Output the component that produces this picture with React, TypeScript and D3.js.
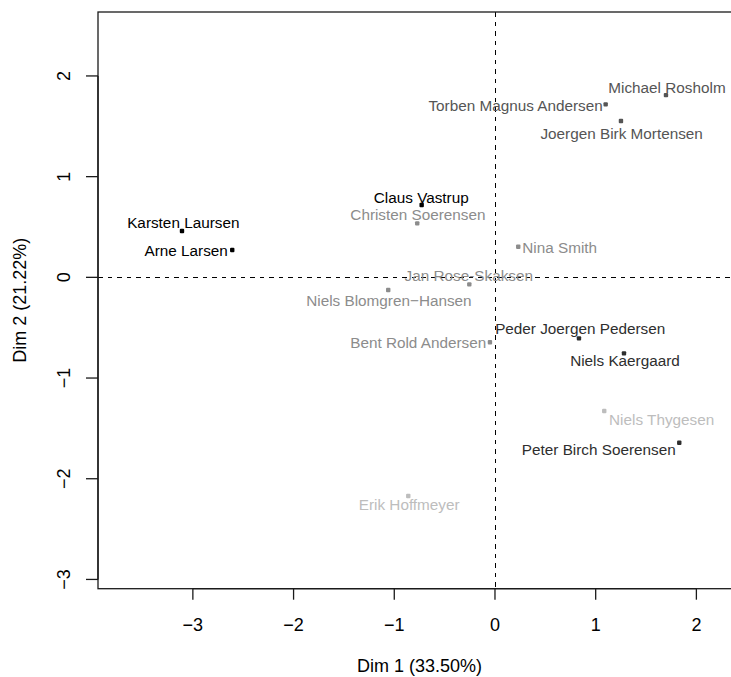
import React from "react";
import * as d3 from "d3";

const names = [
  "Karsten Laursen", "Arne Larsen", "Claus Vastrup", "Christen Soerensen",
  "Jan Rose-Skaksen", "Niels Blomgren\u2212Hansen", "Michael Rosholm",
  "Torben Magnus Andersen", "Joergen Birk Mortensen", "Nina Smith",
  "Bent Rold Andersen", "Peder Joergen Pedersen", "Niels Kaergaard",
  "Niels Thygesen", "Peter Birch Soerensen", "Erik Hoffmeyer",
];
const dim1 = [-3.108, -2.609, -0.728, -0.772, -0.255, -1.06, 1.698, 1.099, 1.251, 0.231, -0.05, 0.834, 1.281, 1.085, 1.83, -0.861];
const dim2 = [0.46, 0.271, 0.718, 0.536, -0.07, -0.126, 1.81, 1.718, 1.552, 0.304, -0.645, -0.606, -0.755, -1.328, -1.643, -2.172];
// label anchor (centre) positions, in data units, as placed by the label layout
const labX = [-3.095, -3.066, -0.732, -0.765, -0.26, -1.053, 1.708, 0.205, 1.258, 0.643, -0.762, 0.846, 1.291, 1.655, 1.031, -0.852];
const labY = [0.544, 0.268, 0.797, 0.622, 0.023, -0.23, 1.89, 1.711, 1.433, 0.301, -0.647, -0.51, -0.826, -1.412, -1.71, -2.256];
const shade = ["#000000", "#000000", "#000000", "#8c8c8c", "#8c8c8c", "#8c8c8c", "#555555", "#555555", "#555555", "#8c8c8c", "#8c8c8c", "#2e2e2e", "#2e2e2e", "#bdbdbd", "#2e2e2e", "#bdbdbd"];

const xTicks = [-3, -2, -1, 0, 1, 2];
const yTicks = [-3, -2, -1, 0, 1, 2];
const xTitle = "Dim 1 (33.50%)";
const yTitle = "Dim 2 (21.22%)";

const W = 731, H = 677;
const L = 98, R = 741, T = 12, B = 588.7;
const FONT = "'Liberation Sans', Arial, Helvetica, sans-serif";
const FS = 15.3;
const AFS = 18;

const fmt = (t: number) => (t < 0 ? "\u2212" + Math.abs(t) : String(t));

export default function App() {
  const x = d3.scaleLinear().domain([-3.942, 2.443]).range([L, R]);
  const y = d3.scaleLinear().domain([-3.092, 2.635]).range([B, T]);
  const capOff = FS * 0.36;
  const axisCol = "#1a1a1a";
  return (
    <svg width={W} height={H} style={{ position: "absolute", left: 0, top: 0, background: "#fff" }} fontFamily={FONT} fontSize={FS}>
      <rect x={0} y={0} width={W} height={H} fill="#fff" />
      <defs>
        <clipPath id="plotclip"><rect x={L} y={T} width={R - L} height={B - T} /></clipPath>
      </defs>
      {/* reference lines */}
      <g clipPath="url(#plotclip)" stroke="#000" strokeWidth={1.1} strokeDasharray="4.5,5" shapeRendering="crispEdges">
        <line x1={L} x2={R} y1={Math.round(y(0)) + 0.5} y2={Math.round(y(0)) + 0.5} />
        <line x1={Math.round(x(0)) + 0.5} x2={Math.round(x(0)) + 0.5} y1={T} y2={B} />
      </g>
      {/* box */}
      <rect x={L} y={T} width={R - L} height={B - T} fill="none" stroke={axisCol} strokeWidth={1.3} />
      {/* x axis */}
      <g fontSize={AFS}>
        <line x1={x(xTicks[0])} x2={x(xTicks[xTicks.length - 1])} y1={B} y2={B} stroke={axisCol} strokeWidth={1.3} />
        {xTicks.map((t) => (
          <g key={"xt" + t}>
            <line x1={x(t)} x2={x(t)} y1={B} y2={B + 11} stroke={axisCol} strokeWidth={1.3} />
            <text x={x(t)} y={630.5} textAnchor="middle" fill="#000">{fmt(t)}</text>
          </g>
        ))}
      </g>
      {/* y axis */}
      <g fontSize={AFS}>
        <line x1={L} x2={L} y1={y(yTicks[0])} y2={y(yTicks[yTicks.length - 1])} stroke={axisCol} strokeWidth={1.3} />
        {yTicks.map((t) => (
          <g key={"yt" + t}>
            <line x1={L - 12} x2={L} y1={y(t)} y2={y(t)} stroke={axisCol} strokeWidth={1.3} />
            <text transform={`translate(${69.5},${y(t)}) rotate(-90)`} textAnchor="middle" fill="#000">{fmt(t)}</text>
          </g>
        ))}
      </g>
      <text x={(L + R) / 2} y={672} textAnchor="middle" fill="#000" fontSize={AFS}>{xTitle}</text>
      <text transform={`translate(25.5,${(T + B) / 2}) rotate(-90)`} textAnchor="middle" fill="#000" fontSize={AFS}>{yTitle}</text>
      {/* points */}
      <g clipPath="url(#plotclip)">
        {names.map((n, i) => (
          <rect key={"p" + i} x={x(dim1[i]) - 2.2} y={y(dim2[i]) - 2.2} width={4.4} height={4.4} rx={1} fill={shade[i]} />
        ))}
        {names.map((n, i) => (
          <text key={"l" + i} x={x(labX[i])} y={y(labY[i]) + capOff} textAnchor="middle" fill={shade[i]}>{n}</text>
        ))}
      </g>
    </svg>
  );
}
